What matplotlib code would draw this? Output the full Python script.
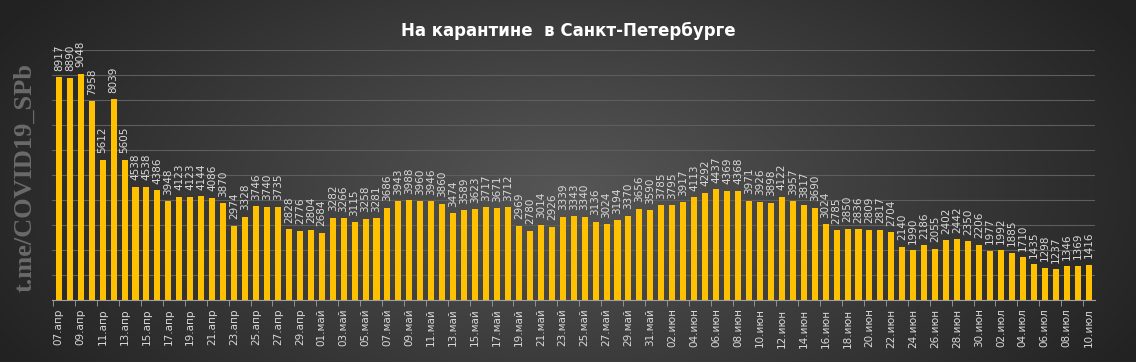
import numpy as np
import matplotlib.pyplot as plt

# Данные: на карантине в Санкт-Петербурге, 07.04 - 10.07
apr = [8917, 8890, 9048, 7958, 5612, 8039, 5605, 4538, 4538, 4386, 3948, 4123,
       4123, 4144, 4086, 3870, 2974, 3328, 3746, 3740, 3735, 2828, 2776, 2804]
may = [2684, 3282, 3266, 3115, 3258, 3281, 3686, 3943, 3988, 3960, 3946, 3860,
       3474, 3589, 3623, 3717, 3671, 3712, 2969, 2780, 3014, 2926, 3339, 3343,
       3340, 3136, 3024, 3194, 3370, 3656, 3590]
jun = [3785, 3795, 3917, 4113, 4292, 4437, 4369, 4368, 3971, 3926, 3898, 4122,
       3957, 3817, 3690, 3024, 2785, 2850, 2836, 2809, 2817, 2704, 2140, 1990,
       2186, 2055, 2402, 2442, 2350, 2206]
jul = [1977, 1992, 1885, 1710, 1435, 1298, 1237, 1346, 1369, 1416]

values = apr + may + jun + jul
days = ([f"{d:02d}.апр" for d in range(7, 31)] +
        [f"{d:02d}.май" for d in range(1, 32)] +
        [f"{d:02d}.июн" for d in range(1, 31)] +
        [f"{d:02d}.июл" for d in range(1, 11)])

fig = plt.figure(figsize=(11.36, 3.62), dpi=100)

# фон с радиальным градиентом
bg = fig.add_axes([0, 0, 1, 1], zorder=0)
yy, xx = np.mgrid[0:362, 0:1136]
r = np.sqrt(((xx - 568) / 640.0) ** 2 + ((yy - 190) / 330.0) ** 2)
shade = np.clip(0.34 - 0.2 * r, 0.14, 0.34)
bg.imshow(shade, cmap='gray', vmin=0, vmax=1, aspect='auto')
bg.axis('off')

ax = fig.add_axes([0.046, 0.171, 0.918, 0.691], zorder=1)
ax.patch.set_alpha(0)
x = np.arange(len(values))
ax.bar(x, values, width=0.55, color='#FFC000', zorder=2)

for xi, v in zip(x, values):
    ax.text(xi, v + 260, str(v), rotation=90, ha='center', va='bottom',
            fontsize=7.5, color='#d9d9d9', zorder=3)

ax.set_ylim(0, 10000)
ax.set_xlim(-0.6, len(values) - 0.4)
ax.set_yticks(np.arange(0, 10001, 1000))
ax.set_yticklabels([])
ax.tick_params(axis='y', length=0)
ax.grid(axis='y', color='#5e5e5e', linewidth=0.8, zorder=0)

ax.set_xticks(x[::2])
ax.set_xticklabels(days[::2], rotation=90, fontsize=7.5, color='#d9d9d9')
ax.set_xticks(np.arange(-0.5, len(values), 2), minor=True)
ax.tick_params(axis='x', which='major', length=0, pad=6)
ax.tick_params(axis='x', which='minor', length=4, color='#a0a0a0')

for s in ['top', 'right', 'left']:
    ax.spines[s].set_visible(False)
ax.spines['bottom'].set_color('#a0a0a0')

fig.text(0.5, 0.915, 'На карантине  в Санкт-Петербурге', ha='center',
         va='center', fontsize=12, fontweight='bold', color='white')
fig.text(0.022, 0.51, 't.me/COVID19_SPb', rotation=90, ha='center', va='center',
         fontsize=19, fontweight='bold', family='Liberation Serif',
         color='#6a6a6a')

plt.savefig('out.png', dpi=100)
